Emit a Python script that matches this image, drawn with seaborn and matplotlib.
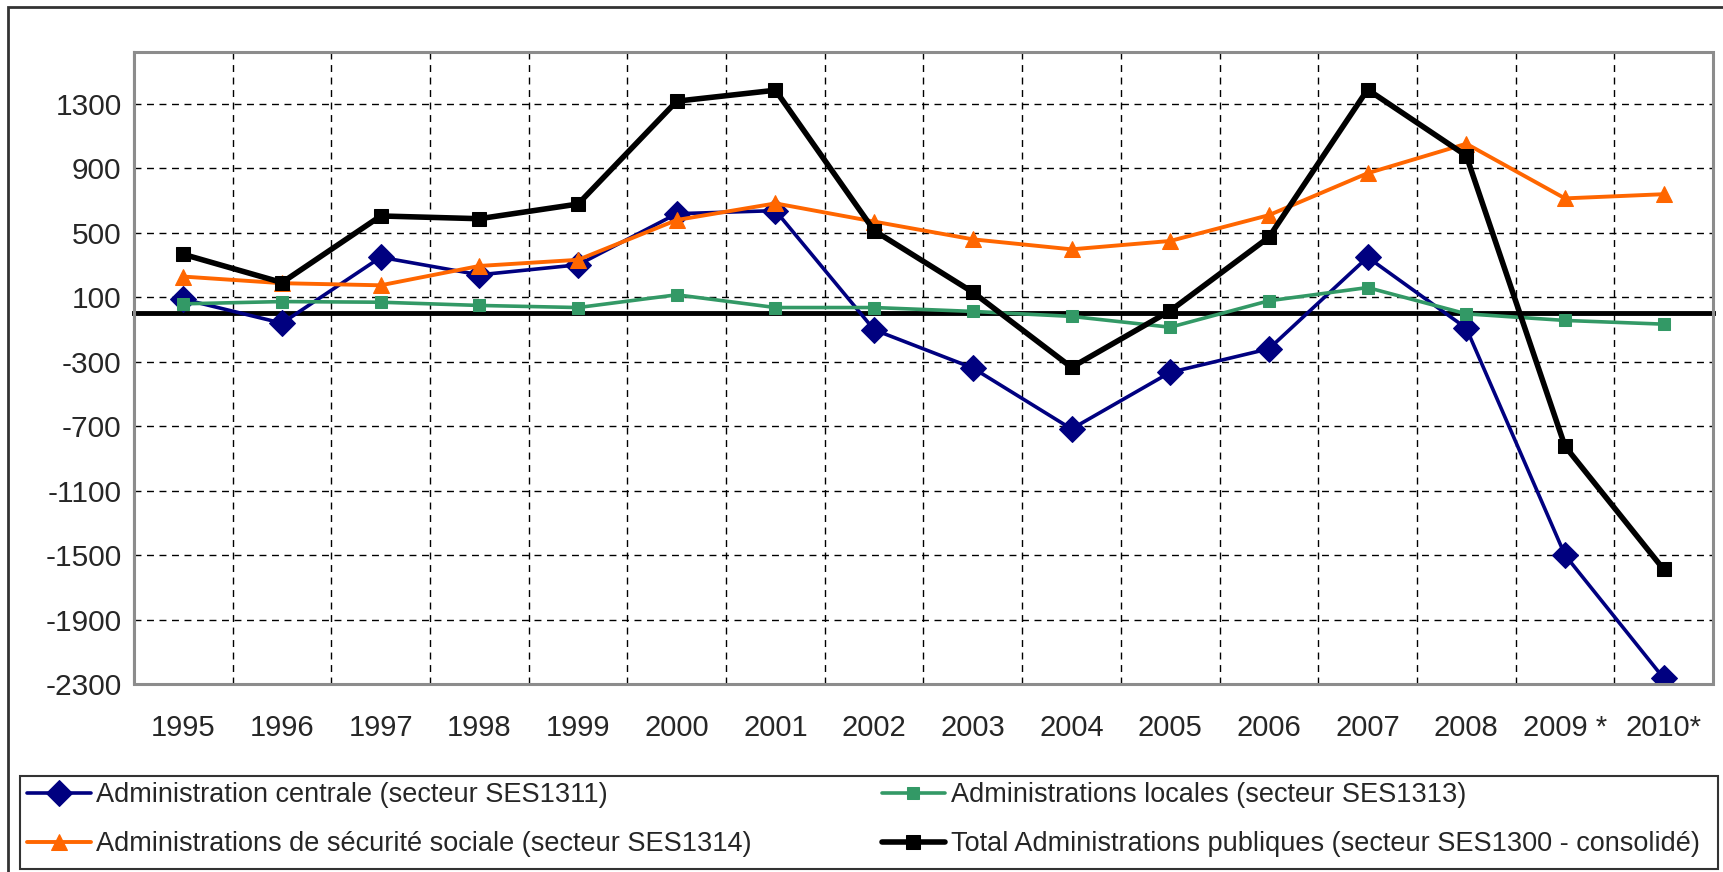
import numpy as np
import pandas as pd
import matplotlib
matplotlib.use("Agg")
import matplotlib.pyplot as plt
import matplotlib.transforms as mtransforms
from matplotlib.patches import Rectangle
import seaborn as sns

# données
years = ["1995", "1996", "1997", "1998", "1999", "2000", "2001", "2002",
         "2003", "2004", "2005", "2006", "2007", "2008", "2009 *", "2010*"]
centrale = [87, -62, 347, 238, 300, 617, 636, -103, -340, -718, -367, -221, 347, -93, -1500, -2264]
locales = [58, 72, 68, 48, 35, 114, 35, 35, 11, -20, -87, 77, 159, -4, -45, -68]
securite = [227, 186, 173, 293, 331, 578, 681, 568, 458, 396, 448, 608, 868, 1051, 712, 738]
total = [365, 190, 603, 586, 677, 1315, 1383, 512, 130, -336, 15, 471, 1387, 977, -825, -1589]

labels = [
    "Administration centrale (secteur SES1311)",
    "Administrations locales (secteur SES1313)",
    "Administrations de sécurité sociale (secteur SES1314)",
    "Total Administrations publiques (secteur SES1300 - consolidé)",
]
yticks = list(range(-2300, 1301, 400))

sns.set_style("white")
plt.rcParams["font.family"] = ["Liberation Sans", "DejaVu Sans"]

fig = plt.figure(figsize=(17.24, 8.72), dpi=100)
ax = fig.add_axes([134 / 1724, 1 - 684 / 872, 1579 / 1724, 632 / 872])

x = np.arange(len(years))
series = [
    (centrale, labels[0], "#000080", "D", 13, 2.6),
    (locales, labels[1], "#339966", "s", 9, 2.6),
    (securite, labels[2], "#FF6600", "^", 11.5, 2.8),
    (total, labels[3], "#000000", "s", 10, 4.0),
]
handles = {}
for vals, lab, col, mk, ms, lw in series:
    df = pd.DataFrame({"x": x, "y": vals})
    sns.lineplot(data=df, x="x", y="y", ax=ax, color=col, marker=mk,
                 markersize=ms, markeredgecolor=col, linewidth=lw,
                 label=lab, zorder=4, legend=False)
    handles[lab] = ax.lines[-1]

ax.set_xlim(-0.5, len(years) - 0.5)
ax.set_ylim(-2300, 1620)
ax.set_xlabel("")
ax.set_ylabel("")

# grille pointillée
ax.set_yticks(yticks)
ax.set_yticklabels([str(v) for v in yticks], fontsize=21.5)
ax.set_xticks(x)
ax.set_xticks(x[:-1] + 0.5, minor=True)
ax.grid(False)
ax.grid(axis="y", which="major", color="black", linestyle=(0, (5, 4)), linewidth=1)
ax.grid(axis="x", which="minor", color="black", linestyle=(0, (5, 4)), linewidth=1)

# axe des abscisses sur le zéro
for s in ["top", "right"]:
    ax.spines[s].set_visible(False)
ax.spines["bottom"].set_position(("data", 0))
ax.spines["bottom"].set_color("black")
ax.spines["bottom"].set_linewidth(3.5)
ax.spines["bottom"].set_zorder(3)
ax.spines["left"].set_color("#808080")
ax.spines["left"].set_linewidth(1.5)
ax.tick_params(axis="x", which="major", length=0, labelbottom=False)
ax.tick_params(axis="x", which="minor", direction="out", length=7, width=2, color="black")
ax.tick_params(axis="y", direction="out", length=5, width=1.2, color="#808080", pad=4)

ax.add_patch(Rectangle((0, 0), 1, 1, transform=ax.transAxes, fill=False,
                       edgecolor="#8c8c8c", linewidth=2.2, clip_on=False, zorder=5))

trans = mtransforms.blended_transform_factory(ax.transData, ax.transAxes)
for i, lab in enumerate(years):
    ax.text(i, -0.0697, lab, transform=trans, ha="center", va="center", fontsize=21)

# légende (cadre dessiné à part)
order = [labels[0], labels[2], labels[1], labels[3]]
leg = fig.legend([handles[l] for l in order], order, ncol=2, loc="upper left",
                 bbox_to_anchor=(27 / 1724, 1 - 782 / 872),
                 fontsize=19.5, frameon=False,
                 handlelength=2.35, handletextpad=0.2, labelspacing=0.85,
                 borderaxespad=0, borderpad=0, columnspacing=4.8)
fig.patches.append(Rectangle((20 / 1724, 1 - 869 / 872), 1698 / 1724, 93 / 872,
                             transform=fig.transFigure, fill=False,
                             edgecolor="#333333", linewidth=1.5))

# cadre du graphique
fig.patches.append(Rectangle((8 / 1724, -0.1), 1.2, 1 - 7 / 872 + 0.1,
                             transform=fig.transFigure, fill=False,
                             edgecolor="#333333", linewidth=2))

fig.savefig("out.png", dpi=100)
